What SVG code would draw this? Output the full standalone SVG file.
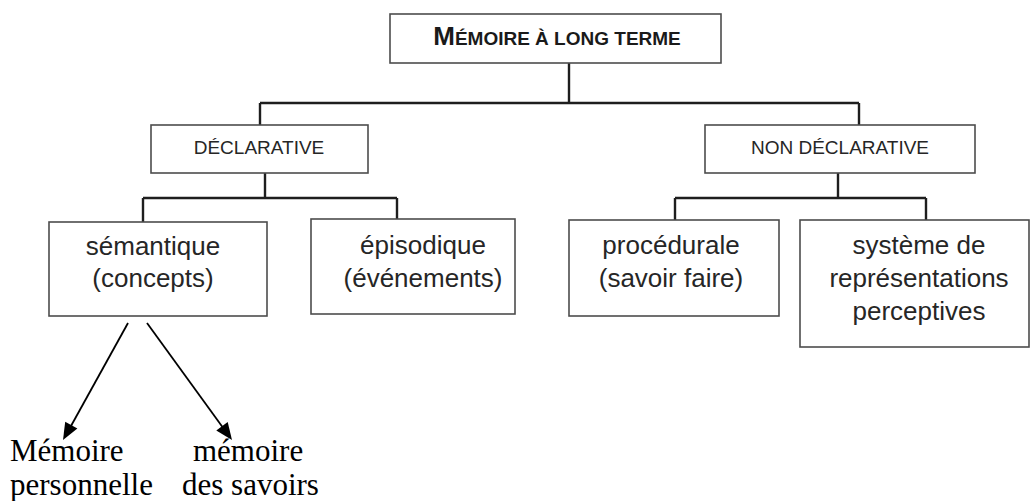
<svg xmlns="http://www.w3.org/2000/svg" width="1031" height="501" viewBox="0 0 1031 501">
<style>
.box{fill:#fff;stroke:#4d4d4d;stroke-width:1.6}
.t{font-family:"Liberation Sans",Arial,sans-serif;font-size:26px;fill:#262626;text-anchor:middle}
.s{font-family:"Liberation Sans",Arial,sans-serif;font-size:19px;fill:#262626;text-anchor:middle}
.title{font-family:"Liberation Sans",Arial,sans-serif;font-size:19px;font-weight:bold;fill:#1a1a1a;text-anchor:middle}
.serif{font-family:"Liberation Serif","Times New Roman",serif;font-size:31px;fill:#000}
.c{fill:none;stroke:#1e1e1e;stroke-width:2.4}
.a{fill:none;stroke:#000;stroke-width:1.8}
.ah{fill:#000}
</style>
<rect width="1031" height="501" fill="#fff"/>
<g id="connectors">
<path class="c" d="M569,63 V103 M260,103 H859 M260,103 V125 M859,103 V125"/>
<path class="c" d="M265,173 V198 M143,198 H397 M143,198 V222 M397,198 V219"/>
<path class="c" d="M838,173 V198 M675,198 H926 M675,198 V220 M926,198 V220"/>
<line class="a" x1="128" y1="323" x2="66" y2="435"/>
<path class="ah" d="M63,440 L77.4,428.5 L65.2,421.7 Z"/>
<line class="a" x1="147" y1="323" x2="229" y2="436"/>
<path class="ah" d="M232,440 L227.7,422.1 L216.3,430.4 Z"/>
</g>
<g id="n-top">
<rect class="box" x="390" y="14" width="331" height="49"/>
<text class="title" x="557" y="45"><tspan font-size="26">M</tspan>ÉMOIRE À LONG TERME</text>
</g>
<g id="n-declarative">
<rect class="box" x="151" y="125" width="217" height="48"/>
<text class="s" x="259" y="154">DÉCLARATIVE</text>
</g>
<g id="n-nondeclarative">
<rect class="box" x="705" y="125" width="270" height="48"/>
<text class="s" x="840" y="154">NON DÉCLARATIVE</text>
</g>
<g id="n-semantique">
<rect class="box" x="49" y="222" width="218" height="94"/>
<text class="t" x="153" y="255">sémantique</text>
<text class="t" x="153" y="287">(concepts)</text>
</g>
<g id="n-episodique">
<rect class="box" x="311" y="219" width="204" height="95"/>
<text class="t" x="423" y="254">épisodique</text>
<text class="t" x="423" y="287">(événements)</text>
</g>
<g id="n-procedurale">
<rect class="box" x="569" y="220" width="210" height="96"/>
<text class="t" x="671" y="254">procédurale</text>
<text class="t" x="671" y="287">(savoir faire)</text>
</g>
<g id="n-systeme">
<rect class="box" x="800" y="220" width="229" height="127"/>
<text class="t" x="919" y="254">système de</text>
<text class="t" x="919" y="287">représentations</text>
<text class="t" x="919" y="320">perceptives</text>
</g>
<g id="n-personnelle">
<text class="serif" x="10" y="461">Mémoire</text>
<text class="serif" x="10" y="495">personnelle</text>
</g>
<g id="n-savoirs">
<text class="serif" x="193" y="461">mémoire</text>
<text class="serif" x="182" y="495">des savoirs</text>
</g>
</svg>
